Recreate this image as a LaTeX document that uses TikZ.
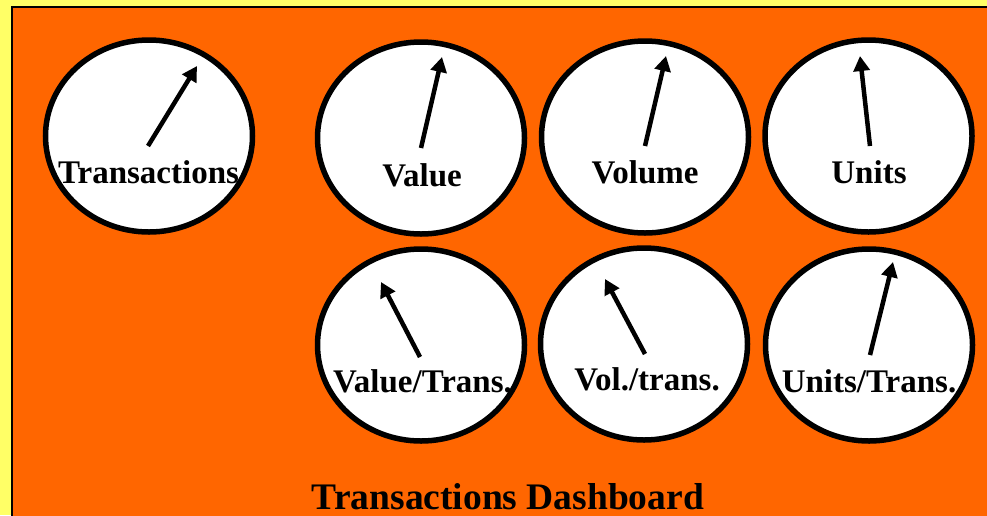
\documentclass[tikz,border=0pt]{standalone}
\usepackage{fontspec}
\setmainfont{Liberation Serif}
\usetikzlibrary{shapes.geometric,arrows.meta}
\definecolor{bgyellow}{HTML}{FFFF66}
\definecolor{dashorange}{HTML}{FF6600}
\tikzset{
  gauge/.style={ellipse, draw=black, fill=white, line width=5.5pt, minimum width=207pt, minimum height=192pt, inner sep=0pt},
  needle/.style={line width=4.5pt, -{Triangle[length=15pt,width=16pt]}},
  glabel/.style={anchor=base, font=\bfseries\fontsize{33}{35}\selectfont, inner sep=0pt},
  gtitle/.style={anchor=base, font=\bfseries\fontsize{37.5}{40}\selectfont, inner sep=0pt}
}
\begin{document}
\begin{tikzpicture}[x=1pt,y=-1pt]
\useasboundingbox (0,0) rectangle (987,515);
\fill[bgyellow] (0,0) rectangle (987,515);
\draw[fill=dashorange, draw=black, line width=1.5pt] (12,7) rectangle (995,525);
% gauges
\node[gauge] (g1) at (149,136) {};
\node[gauge] (g2) at (421,138) {};
\node[gauge] (g3) at (645,137) {};
\node[gauge] (g4) at (868.5,136) {};
\node[gauge] (g5) at (421,345) {};
\node[gauge] (g6) at (644,344) {};
\node[gauge] (g7) at (869,345) {};
% needles
\coordinate (t1) at (148,146); \coordinate (h1) at (197,66);
\coordinate (t2) at (421,148); \coordinate (h2) at (442,57);
\coordinate (t3) at (645,146); \coordinate (h3) at (666,56);
\coordinate (t4) at (870,146); \coordinate (h4) at (860,56);
\coordinate (t5) at (420,357); \coordinate (h5) at (381,282);
\coordinate (t6) at (645,354); \coordinate (h6) at (605,279);
\coordinate (t7) at (870,355); \coordinate (h7) at (893,262);
\foreach \i in {1,...,7} { \draw[needle] (t\i) -- (h\i); }
% labels
\node[glabel] (l1) at (148.5,183) {Transactions};
\node[glabel] (l2) at (422,186) {Value};
\node[glabel] (l3) at (645,183) {Volume};
\node[glabel] (l4) at (869,183) {Units};
\node[glabel] (l5) at (422.5,392) {Value/Trans.};
\node[glabel] (l6) at (647,390) {Vol./trans.};
\node[glabel] (l7) at (869,392) {Units/Trans.};
\node[gtitle] (title) at (508,509) {Transactions Dashboard};
\end{tikzpicture}
\end{document}
